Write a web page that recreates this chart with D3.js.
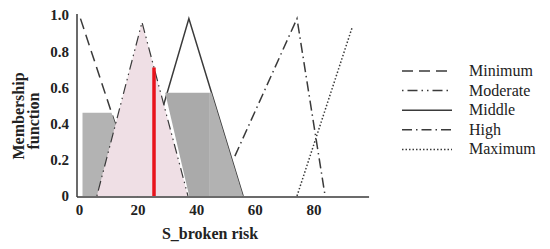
<!DOCTYPE html>
<html>
<head>
<meta charset="utf-8">
<script src="https://cdn.jsdelivr.net/npm/d3@7"></script>
<style>
  body { margin: 0; background: #fff; }
  text { font-family: "Liberation Serif", "DejaVu Serif", serif; }
</style>
</head>
<body>
<script>
// membership functions (x = S_broken risk, y = membership)
const minimum  = [[0.5, 0.98], [20.5, 0]]
const moderate = [[6.1, 0], [21.5, 0.96], [37.2, 0]]
const middle   = [[19.8, 0], [37.5, 0.98], [56, 0]]
const high     = [[53.2, 0.22], [74.4, 0.98], [84, 0]]
const maximum  = [[74.4, 0], [93.2, 0.93]]

// aggregated (clipped) output areas
const clipLow     = [[1.2, 0], [1.2, 0.46], [11.1, 0.46], [20.5, 0]]
const clipMidDark = [[37.6, 0], [29.4, 0.57], [44.4, 0.57], [44.4, 0]]
const clipMidLite = [[44.4, 0], [44.4, 0.57], [45.2, 0.57], [56, 0]]

// defuzzified value
const centroid = [[25.6, 0], [25.6, 0.71]]

const xTicks = [0, 20, 40, 60, 80]
const yTicks = [0, 0.2, 0.4, 0.6, 0.8, 1.0]
const legendNames = ["Minimum", "Moderate", "Middle", "High", "Maximum"]
const dashes = ["11,6", "1.5,4,10,4,1.5,4", null, "10,4,1.5,4", "1.5,2"]

const svg = d3.select("body")
    .append("svg")
    .attr("width", 550)
    .attr("height", 249)

const x = d3.scaleLinear().domain([0, 100]).range([79, 372])
const y = d3.scaleLinear().domain([0, 1]).range([196, 15])

const line = d3.line().x(d => x(d[0])).y(d => y(d[1]))
const ink = "#3a3a3a"

// lines that sit under the shaded areas
svg.append("path").attr("d", line(minimum))
    .attr("fill", "none").attr("stroke", ink).attr("stroke-width", 1.5)
    .attr("stroke-dasharray", dashes[0])
svg.append("path").attr("d", line(middle))
    .attr("fill", "none").attr("stroke", ink).attr("stroke-width", 1.5)

// shaded areas
svg.append("path").attr("d", line(clipLow) + "Z").attr("fill", "#b3b3b3")
svg.append("path").attr("d", line(clipMidDark) + "Z").attr("fill", "#aaaaaa")
svg.append("path").attr("d", line(clipMidLite) + "Z").attr("fill", "#b2b2b2")
svg.append("path").attr("d", line(moderate) + "Z").attr("fill", "#efdfe5")

// lines on top
svg.append("path").attr("d", line(moderate))
    .attr("fill", "none").attr("stroke", ink).attr("stroke-width", 1.2)
    .attr("stroke-dasharray", dashes[1])
svg.append("path").attr("d", line(high))
    .attr("fill", "none").attr("stroke", ink).attr("stroke-width", 1.5)
    .attr("stroke-dasharray", dashes[3])
svg.append("path").attr("d", line(maximum))
    .attr("fill", "none").attr("stroke", ink).attr("stroke-width", 1.5)
    .attr("stroke-dasharray", dashes[4])

svg.append("path").attr("d", line(centroid))
    .attr("fill", "none").attr("stroke", "#e8141c").attr("stroke-width", 3.5)

// axes
const xAxis = svg.append("g")
    .attr("transform", `translate(0, ${y(0) + 1})`)
    .call(d3.axisBottom(x).tickValues(xTicks).tickSize(0).tickPadding(7)
        .tickFormat(d => d))
xAxis.select(".domain").attr("stroke", ink).attr("stroke-width", 1.5)
    .attr("d", `M${x(0) - 2},0H${x(99)}`)
xAxis.selectAll("text").attr("font-size", 15).attr("font-weight", "bold")
    .attr("fill", "#222").style("font-family", "Liberation Serif")

const yAxis = svg.append("g")
    .attr("transform", `translate(${x(0) - 2}, 0)`)
    .call(d3.axisLeft(y).tickValues(yTicks).tickSize(0).tickPadding(8)
        .tickFormat(d => d === 0 ? "0" : d3.format(".1f")(d)))
yAxis.select(".domain").attr("stroke", ink).attr("stroke-width", 1.5)
    .attr("d", `M0,${y(0) + 1}V${y(1) - 1}`)
yAxis.selectAll("text").attr("font-size", 15).attr("font-weight", "bold")
    .attr("fill", "#222").style("font-family", "Liberation Serif")

// axis titles
svg.append("text")
    .attr("x", 210).attr("y", 239)
    .attr("text-anchor", "middle")
    .attr("font-size", 16).attr("font-weight", "bold").attr("fill", "#222")
    .text("S_broken risk")

svg.append("text")
    .attr("transform", "translate(24, 116) rotate(-90)")
    .attr("text-anchor", "middle")
    .attr("font-size", 16).attr("font-weight", "bold").attr("fill", "#222")
    .text("Membership")
svg.append("text")
    .attr("transform", "translate(39, 121) rotate(-90)")
    .attr("text-anchor", "middle")
    .attr("font-size", 16).attr("font-weight", "bold").attr("fill", "#222")
    .text("function")

// legend
const legend = svg.append("g")
    .selectAll("g")
    .data(legendNames)
    .enter()
    .append("g")
    .attr("transform", (d, i) => `translate(0, ${71 + i * 19.6})`)

legend.append("line")
    .attr("x1", 402).attr("x2", 452)
    .attr("stroke", ink).attr("stroke-width", 1.5)
    .attr("stroke-dasharray", (d, i) => dashes[i])

legend.append("text")
    .attr("x", 469).attr("y", 5)
    .attr("font-size", 16).attr("fill", "#222")
    .text(d => d)
</script>
</body>
</html>
